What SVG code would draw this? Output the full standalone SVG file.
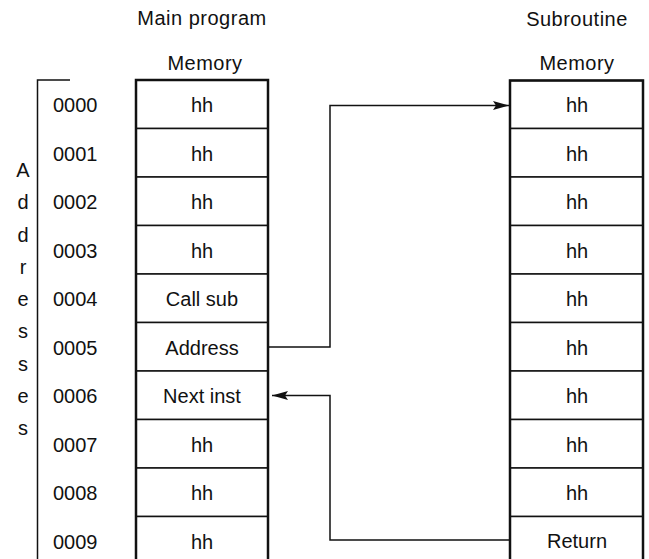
<svg xmlns="http://www.w3.org/2000/svg" width="649" height="559" viewBox="0 0 649 559">
<style>
text{font-family:"Liberation Sans",Arial,sans-serif;font-size:20px;fill:#111}
.c{text-anchor:middle}
.h{letter-spacing:0.5px}
.cell{fill:#fff;stroke:#111;stroke-width:1.5}
.frame{fill:none;stroke:#111;stroke-width:2.5}
.wire{fill:none;stroke:#111;stroke-width:1.5}
</style>
<defs>
<marker id="ah" viewBox="0 0 16 9" refX="16" refY="4.5" markerWidth="16" markerHeight="9" markerUnits="userSpaceOnUse" orient="auto">
<path d="M0,0 L16,4.5 L0,9 L3,4.5 Z" fill="#111"/>
</marker>
</defs>
<rect width="649" height="559" fill="#fff"/>

<g id="headers">
<text class="c h" x="202" y="25">Main program</text>
<text class="c h" x="205" y="70">Memory</text>
<text class="c h" x="577" y="26">Subroutine</text>
<text class="c h" x="577" y="70">Memory</text>
</g>

<g id="addresses-axis">
<path class="wire" d="M70,80 H37.5 V565"/>
<text class="c" x="23" y="177">A</text>
<text class="c" x="23" y="209">d</text>
<text class="c" x="23" y="241.5">d</text>
<text class="c" x="23" y="274">r</text>
<text class="c" x="23" y="306">e</text>
<text class="c" x="23" y="338">s</text>
<text class="c" x="23" y="370.5">s</text>
<text class="c" x="23" y="403">e</text>
<text class="c" x="23" y="435">s</text>
</g>

<g id="address-labels">
<text x="53" y="112">0000</text>
<text x="53" y="160.5">0001</text>
<text x="53" y="209">0002</text>
<text x="53" y="257.5">0003</text>
<text x="53" y="306">0004</text>
<text x="53" y="354.5">0005</text>
<text x="53" y="403">0006</text>
<text x="53" y="451.5">0007</text>
<text x="53" y="500">0008</text>
<text x="53" y="548.5">0009</text>
</g>

<g id="main-memory">
<g id="m0"><rect class="cell" x="136" y="80" width="132" height="48.5"/><text class="c" x="202" y="112">hh</text></g>
<g id="m1"><rect class="cell" x="136" y="128.5" width="132" height="48.5"/><text class="c" x="202" y="160.5">hh</text></g>
<g id="m2"><rect class="cell" x="136" y="177" width="132" height="48.5"/><text class="c" x="202" y="209">hh</text></g>
<g id="m3"><rect class="cell" x="136" y="225.5" width="132" height="48.5"/><text class="c" x="202" y="257.5">hh</text></g>
<g id="m4"><rect class="cell" x="136" y="274" width="132" height="48.5"/><text class="c" x="202" y="306">Call sub</text></g>
<g id="m5"><rect class="cell" x="136" y="322.5" width="132" height="48.5"/><text class="c" x="202" y="354.5">Address</text></g>
<g id="m6"><rect class="cell" x="136" y="371" width="132" height="48.5"/><text class="c" x="202" y="403">Next inst</text></g>
<g id="m7"><rect class="cell" x="136" y="419.5" width="132" height="48.5"/><text class="c" x="202" y="451.5">hh</text></g>
<g id="m8"><rect class="cell" x="136" y="468" width="132" height="48.5"/><text class="c" x="202" y="500">hh</text></g>
<g id="m9"><rect class="cell" x="136" y="516.5" width="132" height="60"/><text class="c" x="202" y="548.5">hh</text></g>
<rect class="frame" x="136" y="80" width="132" height="500"/>
</g>

<g id="sub-memory">
<g id="s0"><rect class="cell" x="510" y="80.5" width="133" height="48"/><text class="c" x="577" y="112">hh</text></g>
<g id="s1"><rect class="cell" x="510" y="128.5" width="133" height="48.5"/><text class="c" x="577" y="160.5">hh</text></g>
<g id="s2"><rect class="cell" x="510" y="177" width="133" height="48.5"/><text class="c" x="577" y="209">hh</text></g>
<g id="s3"><rect class="cell" x="510" y="225.5" width="133" height="48.5"/><text class="c" x="577" y="257.5">hh</text></g>
<g id="s4"><rect class="cell" x="510" y="274" width="133" height="48.5"/><text class="c" x="577" y="306">hh</text></g>
<g id="s5"><rect class="cell" x="510" y="322.5" width="133" height="48.5"/><text class="c" x="577" y="354.5">hh</text></g>
<g id="s6"><rect class="cell" x="510" y="371" width="133" height="48.5"/><text class="c" x="577" y="403">hh</text></g>
<g id="s7"><rect class="cell" x="510" y="419.5" width="133" height="48.5"/><text class="c" x="577" y="451.5">hh</text></g>
<g id="s8"><rect class="cell" x="510" y="468" width="133" height="48.5"/><text class="c" x="577" y="500">hh</text></g>
<g id="s9"><rect class="cell" x="510" y="516.5" width="133" height="60"/><text class="c" x="577" y="548">Return</text></g>
<rect class="frame" x="510" y="80.5" width="133" height="500"/>
</g>

<g id="connectors">
<path class="wire" d="M269,347 H330 V105.5 H509" marker-end="url(#ah)"/>
<path class="wire" d="M509,540 H330 V395.5 H272" marker-end="url(#ah)"/>
</g>
</svg>
